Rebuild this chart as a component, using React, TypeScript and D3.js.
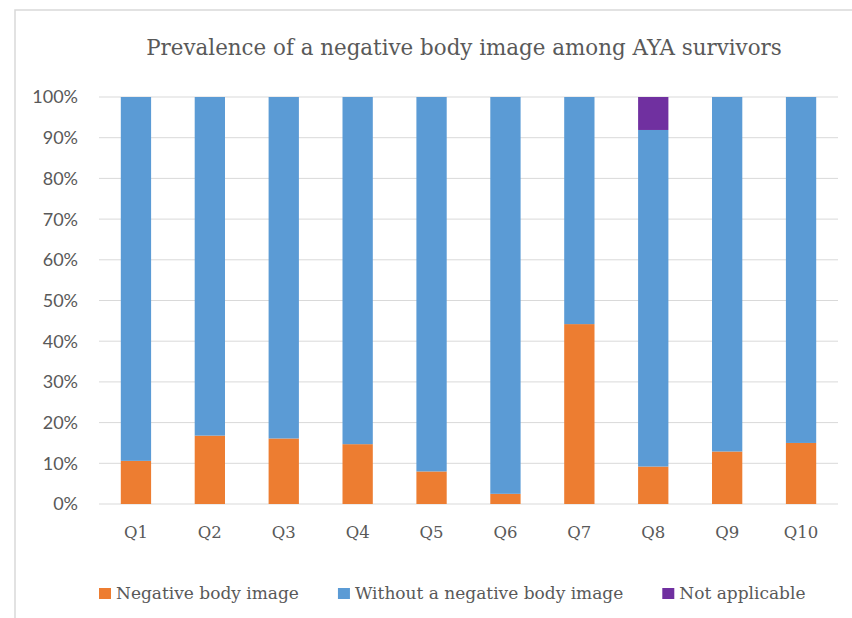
import React, { useEffect, useRef } from 'react';
import * as d3 from 'd3';

const categories = ['Q1', 'Q2', 'Q3', 'Q4', 'Q5', 'Q6', 'Q7', 'Q8', 'Q9', 'Q10'];
const negative = [10.6, 16.8, 16.1, 14.7, 8.0, 2.5, 44.2, 9.2, 12.9, 15.0];
const withoutNegative = [89.4, 83.2, 83.9, 85.3, 92.0, 97.5, 55.8, 82.7, 87.1, 85.0];
const notApplicable = [0, 0, 0, 0, 0, 0, 0, 8.1, 0, 0];
const seriesNames = ['Negative body image', 'Without a negative body image', 'Not applicable'];
const seriesColors = ['#ED7D31', '#5B9BD5', '#7030A0'];
const yTicks = [0, 10, 20, 30, 40, 50, 60, 70, 80, 90, 100];

const App = () => {
  const svgRef = useRef<SVGSVGElement>(null);

  useEffect(() => {
    const width = 852;
    const height = 618;
    const marginTop = 97;
    const marginRight = 14;
    const marginBottom = 114;
    const marginLeft = 99;
    const serif = '"DejaVu Serif", serif';
    const textColor = '#595959';

    const svg = d3.select(svgRef.current);
    svg.selectAll('*').remove();

    // chart frame
    svg.append('rect')
      .attr('x', 15)
      .attr('y', 10)
      .attr('width', width)
      .attr('height', height)
      .attr('fill', 'white')
      .attr('stroke', '#D9D9D9')
      .attr('stroke-width', 1.5);

    const data = categories.map((c, i) => ({
      cat: c,
      neg: negative[i],
      without: withoutNegative[i],
      na: notApplicable[i]
    }));

    const x = d3.scaleBand()
      .domain(categories)
      .range([marginLeft, width - marginRight])
      .paddingInner(0.59)
      .paddingOuter(0.295);

    const y = d3.scaleLinear()
      .domain([0, 100])
      .range([height - marginBottom, marginTop]);

    // gridlines
    svg.append('g')
      .selectAll('line')
      .data(yTicks)
      .join('line')
      .attr('x1', marginLeft)
      .attr('x2', width - marginRight)
      .attr('y1', d => y(d))
      .attr('y2', d => y(d))
      .attr('stroke', '#D9D9D9')
      .attr('stroke-width', 1);

    // y labels
    svg.append('g')
      .selectAll('text')
      .data(yTicks)
      .join('text')
      .attr('x', 78)
      .attr('y', d => y(d))
      .attr('dy', '0.36em')
      .attr('text-anchor', 'end')
      .attr('fill', textColor)
      .style('font', '18px Lato, sans-serif')
      .text(d => `${d}%`);

    // stacked bars
    const stack = d3.stack<any>().keys(['neg', 'without', 'na']);
    const series = stack(data);

    svg.append('g')
      .selectAll('g')
      .data(series)
      .join('g')
      .attr('fill', (d, i) => seriesColors[i])
      .selectAll('rect')
      .data(d => d)
      .join('rect')
      .attr('x', d => x(d.data.cat))
      .attr('y', d => y(d[1]))
      .attr('width', x.bandwidth())
      .attr('height', d => y(d[0]) - y(d[1]));

    // category labels
    svg.append('g')
      .selectAll('text')
      .data(categories)
      .join('text')
      .attr('x', d => x(d) + x.bandwidth() / 2)
      .attr('y', 538)
      .attr('text-anchor', 'middle')
      .attr('fill', textColor)
      .style('font', `16.5px ${serif}`)
      .text(d => d);

    // title
    svg.append('text')
      .attr('x', 464)
      .attr('y', 55)
      .attr('text-anchor', 'middle')
      .attr('fill', textColor)
      .style('font', `21.4px ${serif}`)
      .text('Prevalence of a negative body image among AYA survivors');

    // legend
    const legend = svg.append('g');
    let lx = 99;
    seriesNames.forEach((name, i) => {
      legend.append('rect')
        .attr('x', lx)
        .attr('y', 588)
        .attr('width', 12)
        .attr('height', 11)
        .attr('fill', seriesColors[i]);
      const t = legend.append('text')
        .attr('x', lx + 17)
        .attr('y', 599)
        .attr('fill', textColor)
        .style('font', `17px ${serif}`)
        .text(name);
      const w = (t.node() as SVGTextElement).getComputedTextLength();
      lx = lx + 17 + w + 39;
    });
  }, []);

  return (
    <svg
      ref={svgRef}
      width={852}
      height={618}
      style={{ position: 'absolute', left: 0, top: 0, display: 'block', background: 'white' }}
    />
  );
};

export default App;
